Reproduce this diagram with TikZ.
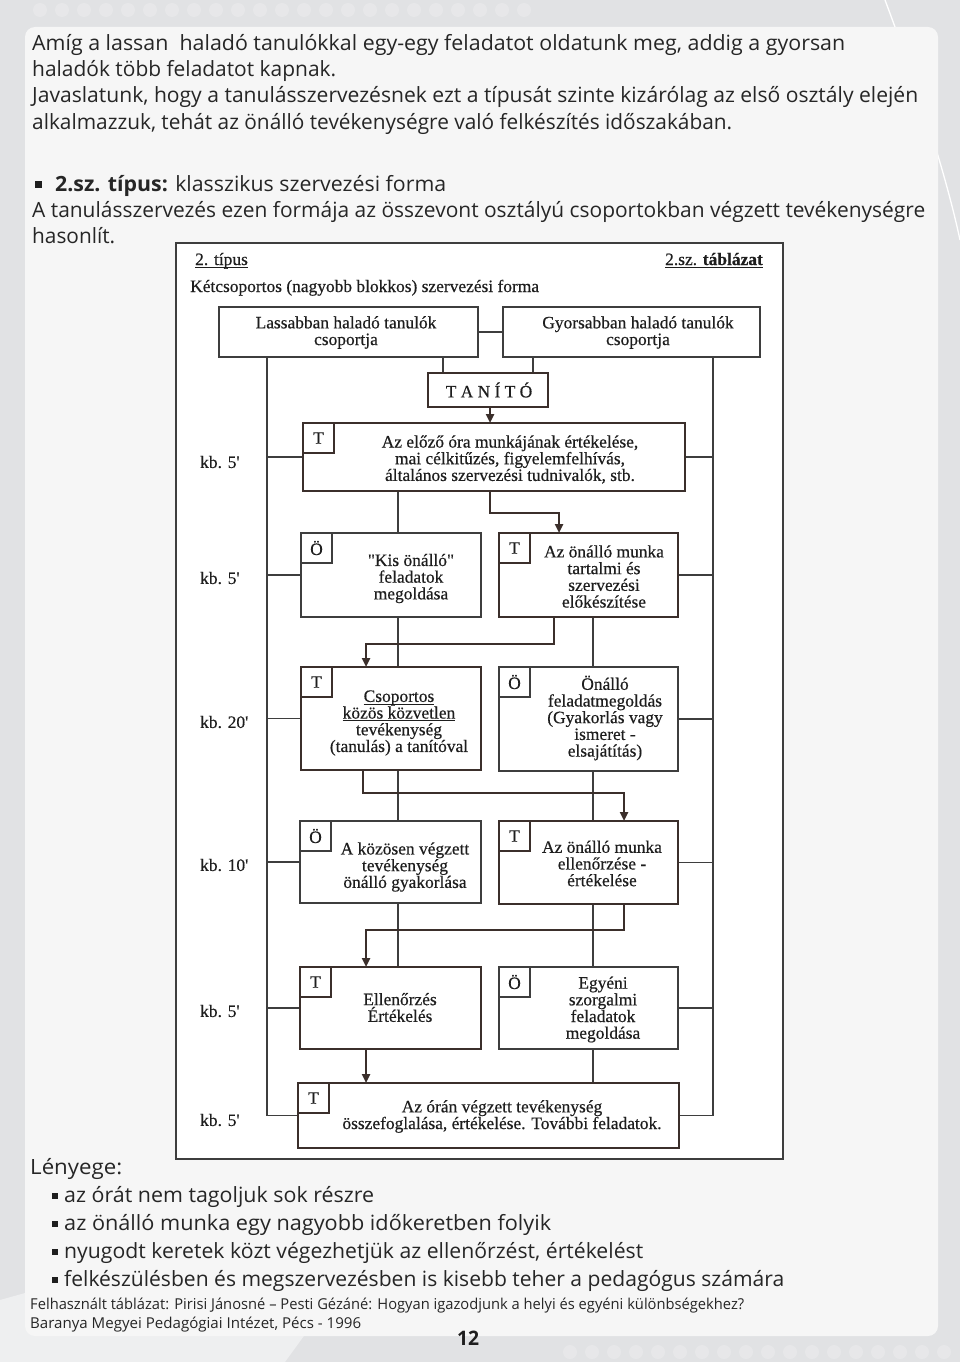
\documentclass[tikz,border=0pt]{standalone}
\usepackage{fontspec}
\usepackage{graphicx}
\setmainfont{Liberation Serif}
\newfontfamily\serifd[FakeBold=0.45]{Liberation Serif}
\newfontfamily\bodyf{Open Sans}
\usetikzlibrary{arrows.meta}
\definecolor{pagebg}{HTML}{E1E2E4}
\definecolor{panelc}{HTML}{F6F6F6}
\definecolor{ink}{HTML}{1E1E1E}
\definecolor{bink}{HTML}{262626}
\definecolor{linec}{HTML}{3E3E3E}
\definecolor{thickc}{HTML}{3B2F2B}
\newsavebox\fitbox
\newdimen\fitw
\newdimen\fitn
\newcommand\fitto[2]{\sbox\fitbox{#2}\fitw=#1\relax\fitn=\wd\fitbox\pgfmathsetmacro\fitr{\fitw/\fitn}\scalebox{\fitr}[1]{\usebox\fitbox}}
\newsavebox\ulbox
\newcommand\ulin[1]{\sbox\ulbox{#1}\rlap{\rule[-2.6pt]{\wd\ulbox}{0.9pt}}\usebox\ulbox}
\newcommand\diagf{\serifd\fontsize{17.4pt}{16.7pt}\selectfont\lineskiplimit=-30pt\relax}
\newcommand\bodyfont{\bodyf\fontsize{21pt}{25pt}\selectfont}
\newcommand\footfont{\bodyf\fontsize{15pt}{18pt}\selectfont}
\begin{document}
\begin{tikzpicture}[x=1pt,y=-1pt,
  thinbox/.style={draw=linec, line width=1.1pt, fill=white, inner sep=0pt, outer sep=0pt, anchor=north west},
  thickbox/.style={draw=thickc, line width=2.6pt, fill=white, inner sep=0pt, outer sep=0pt, anchor=north west},
  subthin/.style={thinbox, minimum width=31pt, minimum height=30pt, font=\diagf, text=ink},
  subthick/.style={thickbox, minimum width=31pt, minimum height=30pt, font=\diagf, text=ink},
  dtext/.style={font=\diagf, align=center, inner sep=0pt, text=ink},
  kblabel/.style={font=\diagf, inner sep=0pt, anchor=west, text=ink},
  conn/.style={draw=linec, line width=1.1pt},
  arr/.style={draw=thickc, line width=2.6pt, -{Triangle[length=9pt,width=8pt]}},
  btext/.style={font=\bodyfont, inner sep=0pt, text=bink, anchor=base west},
  ftext/.style={font=\footfont, inner sep=0pt, text=bink, anchor=base west},
  bul/.style={fill=ink, inner sep=0pt, minimum size=7pt},
  bulsm/.style={fill=ink, inner sep=0pt, minimum size=6pt}]
\useasboundingbox (0,0) rectangle (960,1362);
% background
\fill[pagebg] (0,0) rectangle (960,1362);
\foreach \i in {0,...,22} {\fill[white, opacity=0.2] (40+\i*22,10) circle (7pt);}
\foreach \i in {0,...,17} {\fill[white, opacity=0.2] (570+\i*22,1352) circle (7pt);}
\fill[white, opacity=0.45] (0,1300) -- (0,1362) -- (285,1362) .. controls (330,1300) and (380,1230) .. (430,1180) -- cycle;
\draw[white, line width=1.3pt] (885,0) .. controls (915,80) and (945,170) .. (960,240);
\fill[panelc, rounded corners=10pt] (25,27) rectangle (938,1336);

% body text top
\node[btext] (p1) at (32,51) {\fitto{813pt}{Amíg a lassan~ haladó tanulókkal egy-egy feladatot oldatunk meg, addig a gyorsan}};
\node[btext] (p2) at (32,77) {\fitto{304pt}{haladók több feladatot kapnak.}};
\node[btext] (p3) at (32,103) {\fitto{886pt}{Javaslatunk, hogy a tanulásszervezésnek ezt a típusát szinte kizárólag az első osztály elején}};
\node[btext] (p4) at (32,129) {\fitto{700pt}{alkalmazzuk, tehát az önálló tevékenységre való felkészítés időszakában.}};
\node[bul] (q0) at (38.5,184.5) {};
\node[btext] (p5) at (55,191) {\fitto{391pt}{\textbf{2.sz. típus:} klasszikus szervezési forma}};
\node[btext] (p6) at (32,217) {\fitto{893pt}{A tanulásszervezés ezen formája az összevont osztályú csoportokban végzett tevékenységre}};
\node[btext] (p7) at (32,243) {\fitto{83pt}{hasonlít.}};

% diagram frame
\draw[draw=linec, line width=1.5pt, fill=white] (176,243) rectangle (783,1159);
\node[dtext, anchor=base west] (h1) at (195,265) {\ulin{2. típus}};
\node[dtext, anchor=base east] (h2) at (763,265) {\ulin{2.sz. \textbf{táblázat}}};
\node[dtext, anchor=base west] (h3) at (190,292) {Kétcsoportos (nagyobb blokkos) szervezési forma};

% coordinates of the verticals
\coordinate (xL) at (267,0);
\coordinate (xR) at (713,0);
\coordinate (xCL) at (398,0);
\coordinate (xCR) at (593,0);
\coordinate (xT1) at (443,0);
\coordinate (xT2) at (533,0);
\coordinate (xA0) at (490,0);
\coordinate (xA1) at (559,0);
\coordinate (xA2) at (554,0);
\coordinate (xA3) at (363,0);
\coordinate (xA3b) at (624,0);
\coordinate (xA4) at (366,0);
\coordinate (yA1) at (0,513);
\coordinate (yA2) at (0,644);
\coordinate (yA3) at (0,793);
\coordinate (yA4) at (0,930);

% boxes
\node[thinbox, minimum width=259pt, minimum height=50pt] (bL) at (219,307) {};
\node[thinbox, minimum width=257pt, minimum height=50pt] (bR) at (503,307) {};
\node[thickbox, minimum width=120pt, minimum height=34pt] (tan) at (428,373) {};
\node[thickbox, minimum width=382pt, minimum height=68pt] (b1) at (303,423) {};
\node[thinbox, minimum width=180pt, minimum height=84pt] (b2L) at (301,533) {};
\node[thickbox, minimum width=179pt, minimum height=84pt] (b2R) at (499,533) {};
\node[thickbox, minimum width=180pt, minimum height=103pt] (b3L) at (301,667) {};
\node[thinbox, minimum width=179pt, minimum height=104pt] (b3R) at (499,667) {};
\node[thinbox, minimum width=181pt, minimum height=82pt] (b4L) at (300,821) {};
\node[thickbox, minimum width=179pt, minimum height=83pt] (b4R) at (499,821) {};
\node[thickbox, minimum width=181pt, minimum height=82pt] (b5L) at (300,967) {};
\node[thinbox, minimum width=179pt, minimum height=82pt] (b5R) at (499,967) {};
\node[thickbox, minimum width=381pt, minimum height=65pt] (b6) at (298,1083) {};

% connectors
\draw[conn] (bL.east) -- (bR.west);
\draw[conn] (bL.south -| xL) -- (b6.west -| xL);
\draw[conn] (bR.south -| xR) -- (b6.east -| xR);
\draw[conn] (bL.south -| xT1) -- (tan.north -| xT1);
\draw[conn] (bR.south -| xT2) -- (tan.north -| xT2);
\foreach \b in {b1,b2L,b3L,b4L,b5L,b6} {\draw[conn] (\b.west -| xL) -- (\b.west);}
\foreach \b in {b1,b2R,b3R,b4R,b5R,b6} {\draw[conn] (\b.east) -- (\b.east -| xR);}
\draw[conn] (b1.south -| xCL) -- (b2L.north -| xCL);
\draw[conn] (b2L.south -| xCL) -- (b3L.north -| xCL);
\draw[conn] (b3L.south -| xCL) -- (b4L.north -| xCL);
\draw[conn] (b4L.south -| xCL) -- (b5L.north -| xCL);
\draw[conn] (b2R.south -| xCR) -- (b3R.north -| xCR);
\draw[conn] (b3R.south -| xCR) -- (b4R.north -| xCR);
\draw[conn] (b4R.south -| xCR) -- (b5R.north -| xCR);
\draw[conn] (b5R.south -| xCR) -- (b6.north -| xCR);

% arrows
\draw[arr] (tan.south -| xA0) -- (b1.north -| xA0);
\draw[arr] (b1.south -| xA0) -- (xA0 |- yA1) -- (xA1 |- yA1) -- (b2R.north -| xA1);
\draw[arr] (b2R.south -| xA2) -- (xA2 |- yA2) -- (xA4 |- yA2) -- (b3L.north -| xA4);
\draw[arr] (b3L.south -| xA3) -- (xA3 |- yA3) -- (xA3b |- yA3) -- (b4R.north -| xA3b);
\draw[arr] (b4R.south -| xA3b) -- (xA3b |- yA4) -- (xA4 |- yA4) -- (b5L.north -| xA4);
\draw[arr] (b5L.south -| xA4) -- (b6.north -| xA4);

% redraw boxes' borders over connector ends
\foreach \b in {bL,bR,b2L,b3R,b4L,b5R} {\draw[draw=linec, line width=1.1pt] (\b.north west) rectangle (\b.south east);}
\foreach \b in {tan,b1,b2R,b3L,b4R,b5L,b6} {\draw[draw=thickc, line width=2.6pt] (\b.north west) rectangle (\b.south east);}

% corner marks
\node[subthick] (s1) at (b1.north west) {T};
\node[subthin] (s2L) at (b2L.north west) {Ö};
\node[subthick] (s2R) at (b2R.north west) {T};
\node[subthick] (s3L) at (b3L.north west) {T};
\node[subthin] (s3R) at (b3R.north west) {Ö};
\node[subthin] (s4L) at (b4L.north west) {Ö};
\node[subthick] (s4R) at (b4R.north west) {T};
\node[subthick] (s5L) at (b5L.north west) {T};
\node[subthin] (s5R) at (b5R.north west) {Ö};
\node[subthick] (s6) at (b6.north west) {T};

% box texts
\node[dtext] (tL) at (346,332.5) {Lassabban haladó tanulók\\csoportja};
\node[dtext] (tR) at (638,332.5) {Gyorsabban haladó tanulók\\csoportja};
\node[dtext] (tT) at (489,390) {T A N Í T Ó};
\node[dtext] (t1) at (510,459.5) {Az előző óra munkájának értékelése,\\mai célkitűzés, figyelemfelhívás,\\általános szervezési tudnivalók, stb.};
\node[dtext] (t2L) at (411,578.5) {"Kis önálló"\\feladatok\\megoldása};
\node[dtext] (t2R) at (604,576.5) {Az önálló munka\\tartalmi és\\szervezési\\előkészítése};
\node[dtext] (t3L) at (399,723) {\ulin{Csoportos}\\\ulin{közös közvetlen}\\tevékenység\\(tanulás) a tanítóval};
\node[dtext] (t3R) at (605,718) {Önálló\\feladatmegoldás\\(Gyakorlás vagy\\ismeret -\\elsajátítás)};
\node[dtext] (t4L) at (405,867) {A közösen végzett\\tevékenység\\önálló gyakorlása};
\node[dtext] (t4R) at (602,863.5) {Az önálló munka\\ellenőrzése -\\értékelése};
\node[dtext] (t5L) at (400,1007.5) {Ellenőrzés\\Értékelés};
\node[dtext] (t5R) at (603,1009.5) {Egyéni\\szorgalmi\\feladatok\\megoldása};
\node[dtext] (t6) at (502,1116.5) {Az órán végzett tevékenység\\összefoglalása, értékelése. További feladatok.};

% time labels
\node[kblabel] (k1) at (200,462) {kb. 5'};
\node[kblabel] (k2) at (200,578) {kb. 5'};
\node[kblabel] (k3) at (200,722) {kb. 20'};
\node[kblabel] (k4) at (200,865) {kb. 10'};
\node[kblabel] (k5) at (200,1011) {kb. 5'};
\node[kblabel] (k6) at (200,1120) {kb. 5'};

% bottom text
\node[btext] (l0) at (30,1174) {\fitto{92pt}{Lényege:}};
\node[bulsm] (m1) at (55,1196) {};
\node[btext] (l1) at (64,1202) {\fitto{310pt}{az órát nem tagoljuk sok részre}};
\node[bulsm] (m2) at (55,1224) {};
\node[btext] (l2) at (64,1230) {\fitto{487pt}{az önálló munka egy nagyobb időkeretben folyik}};
\node[bulsm] (m3) at (55,1252) {};
\node[btext] (l3) at (64,1258) {\fitto{579pt}{nyugodt keretek közt végezhetjük az ellenőrzést, értékelést}};
\node[bulsm] (m4) at (55,1280) {};
\node[btext] (l4) at (64,1286) {\fitto{720pt}{felkészülésben és megszervezésben is kisebb teher a pedagógus számára}};
\node[ftext] (f1) at (30,1309) {\fitto{714pt}{Felhasznált táblázat: Pirisi Jánosné – Pesti Gézáné: Hogyan igazodjunk a helyi és egyéni különbségekhez?}};
\node[ftext] (f2) at (30,1328) {\fitto{331pt}{Baranya Megyei Pedagógiai Intézet, Pécs - 1996}};
\node[font=\bodyf\bfseries\fontsize{20pt}{20pt}\selectfont, inner sep=0pt, anchor=base, text=ink] (pg) at (468,1345) {\fitto{22pt}{12}};
\end{tikzpicture}
\end{document}
